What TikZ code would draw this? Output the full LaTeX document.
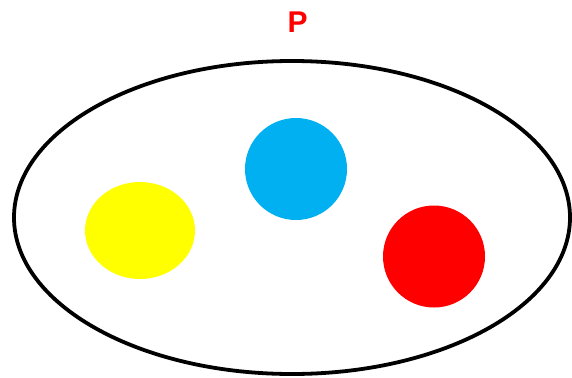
\documentclass[tikz,border=0pt]{standalone}
\usepackage{fontspec}
\setmainfont{Liberation Sans}
\usepackage{xcolor}
\definecolor{colSky}{RGB}{0,176,240}
\definecolor{colSun}{RGB}{255,255,0}
\definecolor{colFire}{RGB}{255,0,0}
\usetikzlibrary{shapes.geometric}

\begin{document}
\begin{tikzpicture}[
				x=1pt, y=-1pt,
				blob/.style={ellipse, inner sep=0pt},
				ball/.style={circle, inner sep=0pt, minimum size=102pt},
				setlabel/.style={font=\fontsize{30}{30}\selectfont\bfseries, text=colFire}
			]
				\useasboundingbox (0,0) rectangle (572,377);
				% the set
				\node[blob, draw, line width=3.8pt, minimum width=556pt, minimum height=313pt]
				     (set) at (292,217.5) {};
				\node[setlabel] (lbl) at (297.5,22) {P};
				% its elements
				\node[blob, fill=colSun, minimum width=110pt, minimum height=97pt]
				     (yel) at (140,230.5) {};
				\node[ball, fill=colSky] (blu) at (296,169) {};
				\node[ball, fill=colFire] (rd) at (434,256.5) {};
			\end{tikzpicture}
\end{document}
